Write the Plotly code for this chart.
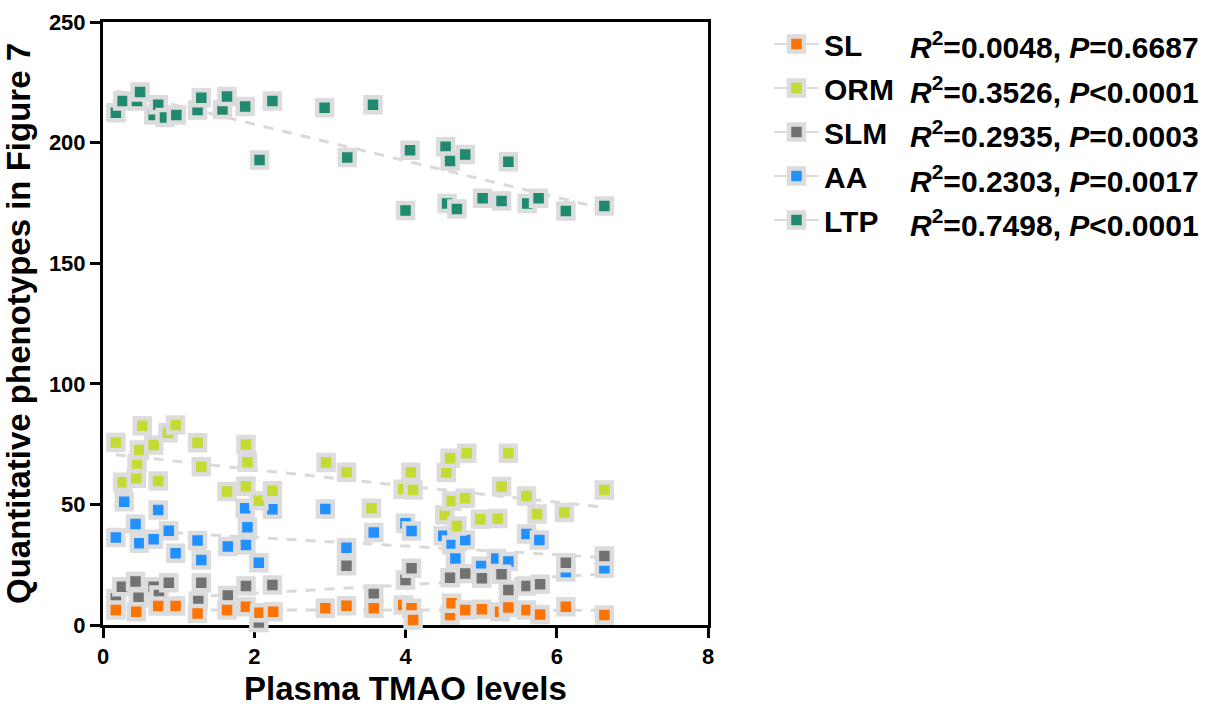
import numpy as np
import plotly.graph_objects as go

# ---- data ----
series_names = ["SL", "ORM", "SLM", "AA", "LTP"]
stats_r2 = ["0.0048", "0.3526", "0.2935", "0.2303", "0.7498"]
stats_p = ["=0.6687", "<0.0001", "=0.0003", "=0.0017", "<0.0001"]

sl_x = [0.17, 0.44, 0.73, 0.96, 1.25, 1.64, 1.89, 2.07, 2.25, 2.94, 3.22, 3.58, 3.97, 4.08, 4.10,
        4.59, 4.61, 4.79, 5.01, 5.25, 5.36, 5.60, 5.78, 6.12, 6.63]
sl_y = [6.2, 5.5, 7.9, 7.9, 4.8, 6.2, 7.6, 5.1, 5.5, 6.9, 8.0, 6.9, 8.3, 6.9, 2.1,
        4.1, 9.0, 6.2, 6.5, 5.5, 7.3, 6.2, 4.4, 7.6, 4.1]

orm_x = [0.17, 0.26, 0.44, 0.45, 0.48, 0.52, 0.67, 0.73, 0.86, 0.96, 1.25, 1.30, 1.64, 1.89, 1.89,
         1.91, 2.06, 2.24, 2.95, 3.22, 3.55, 3.97, 4.07, 4.10, 4.52, 4.54, 4.59, 4.61, 4.68, 4.79,
         4.81, 4.99, 5.22, 5.27, 5.36, 5.60, 5.74, 6.10, 6.63]
orm_y = [75.7, 59.2, 60.8, 67.0, 72.6, 82.6, 74.6, 59.7, 79.7, 82.9, 75.6, 65.6, 55.3, 74.8, 57.5,
         67.5, 51.5, 55.7, 67.4, 63.3, 48.4, 56.3, 63.3, 56.0, 45.6, 63.2, 69.1, 51.4, 41.0, 52.5,
         71.2, 43.8, 44.2, 57.4, 71.2, 53.5, 46.0, 46.6, 56.0]

slm_x = [0.17, 0.25, 0.43, 0.47, 0.67, 0.74, 0.87, 1.26, 1.30, 1.65, 1.89, 2.06, 2.24, 3.22, 3.58,
         4.00, 4.08, 4.59, 4.79, 5.01, 5.27, 5.36, 5.60, 5.78, 6.12, 6.63]
slm_y = [11.0, 15.9, 18.0, 11.3, 15.9, 12.4, 17.5, 10.0, 17.5, 12.2, 16.2, 1.0, 16.6, 24.6, 12.9,
         18.7, 23.5, 19.6, 21.4, 19.4, 21.0, 14.5, 16.2, 16.9, 25.8, 28.6]

aa_x = [0.17, 0.28, 0.43, 0.48, 0.67, 0.73, 0.87, 0.96, 1.25, 1.30, 1.65, 1.88, 1.89, 1.91, 2.06,
        2.24, 2.94, 3.22, 3.58, 4.00, 4.08, 4.50, 4.61, 4.66, 4.79, 5.00, 5.20, 5.36, 5.60, 5.77,
        6.12, 6.63]
aa_y = [36.3, 51.1, 41.9, 33.9, 35.5, 47.7, 39.1, 29.7, 35.0, 27.0, 32.5, 48.4, 33.2, 40.5, 25.8,
        48.0, 48.1, 32.0, 38.4, 42.2, 39.0, 37.0, 33.2, 27.6, 35.2, 24.5, 27.6, 26.3, 37.7, 35.2,
        22.0, 23.5]

ltp_x = [0.17, 0.26, 0.45, 0.49, 0.67, 0.73, 0.82, 0.97, 1.25, 1.30, 1.58, 1.64, 1.88, 2.07, 2.24,
         2.93, 3.23, 3.57, 4.00, 4.06, 4.53, 4.55, 4.59, 4.68, 4.79, 5.02, 5.27, 5.36, 5.61, 5.76,
         6.12, 6.63]
ltp_y = [212.4, 217.2, 217.2, 221.0, 211.4, 215.7, 210.4, 211.4, 213.5, 218.6, 213.7, 219.1, 215.0,
         192.8, 217.2, 214.5, 193.8, 215.7, 171.8, 196.8, 198.3, 174.8, 192.4, 172.5, 195.1, 176.9,
         175.8, 192.1, 174.8, 176.9, 171.6, 173.7]

# regression (dashed) lines: value at first and last TMAO level
fit_x = [0.17, 6.63]
fit_sl = [6.3, 6.1]
fit_orm = [70.6, 48.8]
fit_slm = [10.0, 21.2]
fit_aa = [39.6, 28.0]
fit_ltp = [221.5, 172.5]

x_ticks = [0, 2, 4, 6, 8]
y_ticks = [0, 50, 100, 150, 200, 250]

colors = {"SL": "#FF7300", "ORM": "#C6DA34", "SLM": "#727272", "AA": "#2390FF", "LTP": "#1F8A6F"}
data = {"SL": (sl_x, sl_y, fit_sl), "ORM": (orm_x, orm_y, fit_orm), "SLM": (slm_x, slm_y, fit_slm),
        "AA": (aa_x, aa_y, fit_aa), "LTP": (ltp_x, ltp_y, fit_ltp)}

FONT = "Liberation Sans, Arial, Helvetica, sans-serif"
fig = go.Figure()

draw_order = ["LTP", "AA", "SLM", "ORM", "SL"]

# regression lines (below markers)
for name in draw_order:
    fig.add_trace(go.Scatter(x=fit_x, y=data[name][2], mode="lines", showlegend=False,
                             line=dict(color="#D9D9D9", width=3, dash="10px,9px"),
                             hoverinfo="skip", cliponaxis=False))


def gapped(vals):
    out = []
    for v in vals:
        out += [v, None]
    return out


for name in draw_order:
    xs, ys, _ = data[name]
    fig.add_trace(go.Scatter(x=gapped(xs), y=gapped(ys), mode="lines+markers", name=name,
                             legendgroup=name, connectgaps=False,
                             legendrank=series_names.index(name) + 1,
                             cliponaxis=False,
                             line=dict(color="#DCDCDC", width=2),
                             marker=dict(symbol="square", size=15, color=colors[name],
                                         line=dict(color="#DCDCDC", width=4.5))))

tick_font = dict(family=FONT, size=22, color="black", weight="bold")
title_font = dict(family=FONT, size=33, color="black", weight="bold")
axis_common = dict(showline=True, linecolor="black", linewidth=3, mirror=True,
                   ticks="outside", ticklen=10, tickwidth=3, tickcolor="black",
                   showgrid=False, zeroline=False, layer="below traces", automargin=False)

fig.update_xaxes(range=[0, 8], tickvals=x_ticks, **axis_common)
fig.update_yaxes(range=[0, 250], tickvals=y_ticks, **axis_common)
fig.update_xaxes(tickfont=tick_font,
                 title=dict(text="Plasma TMAO levels", standoff=12, font=title_font))
fig.update_yaxes(tickfont=tick_font,
                 title=dict(text="Quantitative phenotypes in Figure 7", standoff=10, font=title_font))

# statistics text beside legend entries
row_y = [45, 89.5, 134, 178.5, 223]
for i, name in enumerate(series_names):
    fig.add_annotation(xref="paper", yref="paper",
                       x=(908 - 103) / 605, y=1 - (row_y[i] - 22) / 603,
                       xanchor="left", yanchor="middle", showarrow=False,
                       text=f"<i>R</i><sup>2</sup>={stats_r2[i]}, <i>P</i>{stats_p[i]}",
                       font=dict(family=FONT, size=30, color="black", weight="bold"))

fig.update_layout(
    width=1205, height=707,
    margin=dict(l=103, r=497, t=22, b=82, autoexpand=False),
    plot_bgcolor="white", paper_bgcolor="white",
    legend=dict(x=(769 - 103) / 605, y=1 + 4 / 603, xanchor="left", yanchor="top",
                traceorder="grouped", tracegroupgap=2, itemwidth=45,
                font=dict(family=FONT, size=30, color="black", weight="bold"),
                bgcolor="rgba(0,0,0,0)"),
    showlegend=True,
)

fig.write_html("out.html")
